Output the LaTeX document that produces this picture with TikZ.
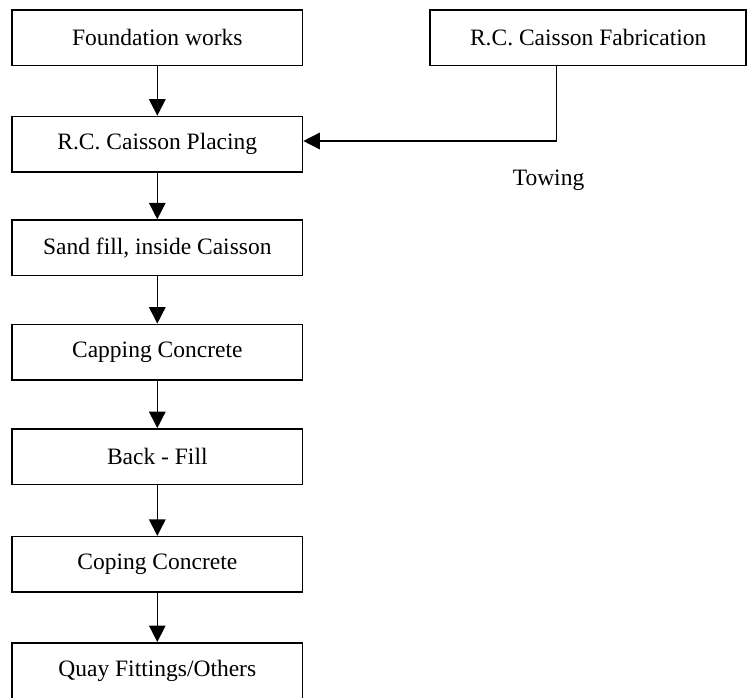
\documentclass[tikz,border=0pt]{standalone}
\usepackage{fontspec}
\setmainfont{Liberation Serif}
\usetikzlibrary{arrows.meta}
\begin{document}
\begin{tikzpicture}[x=1pt,y=-1pt,
  stepbox/.style={draw=black,line width=1.5pt,minimum width=290.5pt,minimum height=55.5pt,inner sep=0pt,font=\fontsize{23.5}{28}\selectfont},
  conn/.style={line width=1.5pt,-{Triangle[length=16.5pt,width=16.5pt]}}]
\useasboundingbox (0,0) rectangle (748,698);
\node[stepbox] (found) at (157.3,37.8) {Foundation works};
\node[stepbox] (place) at (157.3,144.2) {R.C. Caisson Placing};
\node[stepbox] (sand) at (157.3,247.8) {Sand fill, inside Caisson};
\node[stepbox] (cap) at (157.3,352.1) {Capping Concrete};
\node[stepbox] (back) at (157.3,456.6) {Back - Fill};
\node[stepbox] (coping) at (157.3,564.4) {Coping Concrete};
\node[stepbox] (quay) at (157.3,670.5) {Quay Fittings/Others};
\node[stepbox,minimum width=316pt] (fab) at (588.2,37.8) {R.C. Caisson Fabrication};
\node[anchor=base,font=\fontsize{23.5}{28}\selectfont,inner sep=0pt] (tow) at (548.5,185.5) {Towing};
\coordinate (bend) at (556.7,141);
\draw[conn] (found) -- (place);
\draw[conn] (place) -- (sand);
\draw[conn] (sand) -- (cap);
\draw[conn] (cap) -- (back);
\draw[conn] (back) -- (coping);
\draw[conn] (coping) -- (quay);
\draw[conn] (fab.south -| bend) -- (bend) -- (bend -| place.east);
\end{tikzpicture}
\end{document}
